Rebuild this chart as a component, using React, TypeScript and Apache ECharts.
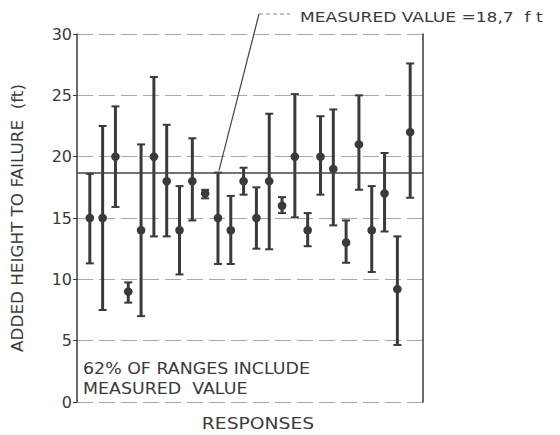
import React, { useEffect, useRef } from "react";
import * as echarts from "echarts";

const responses = [1, 2, 3, 4, 5, 6, 7, 8, 9, 10, 11, 12, 13, 14, 15, 16, 17, 18, 19, 20, 21, 22, 23, 24, 25, 26];
const midValues = [15, 15, 20, 9, 14, 20, 18, 14, 18, 17, 15, 14, 18, 15, 18, 16, 20, 14, 20, 19, 13, 21, 14, 17, 9.2, 22];
const lowValues = [11.3, 7.5, 15.9, 8.1, 7.0, 13.5, 13.5, 10.4, 14.8, 16.6, 11.25, 11.25, 16.9, 12.5, 12.45, 15.4, 15.05, 12.7, 16.9, 14.4, 11.35, 17.3, 10.6, 13.9, 4.65, 16.65];
const highValues = [18.6, 22.5, 24.1, 9.75, 21.0, 26.5, 22.6, 17.6, 21.5, 17.3, 18.7, 16.8, 19.1, 17.5, 23.5, 16.7, 25.1, 15.4, 23.3, 23.85, 14.8, 25.0, 17.6, 20.3, 13.5, 27.6];
const yTicks = [0, 5, 10, 15, 20, 25, 30];
const measuredValue = 18.7;
const annotatedResponse = 11;
const annotationText = "MEASURED VALUE =18,7  f t";
const noteLines = ["62% OF RANGES INCLUDE", "MEASURED  VALUE"];
const yTitle = "ADDED HEIGHT TO FAILURE  (ft)";
const xTitle = "RESPONSES";

const FONT = "DejaVu Sans";
const INK = "#3a3a3a";

export default function App() {
  const ref = useRef<HTMLDivElement>(null);
  useEffect(() => {
    if (!ref.current) return;
    const chart = echarts.init(ref.current, undefined, { renderer: "svg" });
    const data = responses.map((r, i) => [r, lowValues[i], midValues[i], highValues[i]]);
    chart.setOption({
      animation: false,
      backgroundColor: "#ffffff",
      grid: { left: 77, top: 34, right: 137, bottom: 33, show: false },
      xAxis: {
        type: "value",
        min: 0,
        max: responses.length + 1,
        axisLine: { show: false },
        axisTick: { show: false },
        axisLabel: { show: false },
        splitLine: { show: false },
      },
      yAxis: [
        {
          type: "value",
          min: 0,
          max: 30,
          interval: 5,
          axisLine: { show: true, lineStyle: { color: INK, width: 1.5 } },
          axisTick: { show: true, length: 4, lineStyle: { color: INK } },
          axisLabel: {
            fontFamily: FONT,
            fontSize: 16,
            color: INK,
            margin: 5,
            formatter: (v: number) => (yTicks.includes(v) ? String(v) : ""),
          },
          splitLine: { show: true, lineStyle: { color: "#a8a8a8", type: [16, 6], width: 1 } },
        },
        {
          type: "value",
          min: 0,
          max: 30,
          interval: 5,
          position: "right",
          axisLine: { show: true, lineStyle: { color: INK, width: 1.5 } },
          axisTick: { show: false },
          axisLabel: { show: false },
          splitLine: { show: false },
        },
      ],
      series: [
        {
          type: "custom",
          data,
          encode: { x: 0, y: [1, 2, 3] },
          renderItem: (params: any, api: any) => {
            const x = api.value(0);
            const lo = api.coord([x, api.value(1)]);
            const mid = api.coord([x, api.value(2)]);
            const hi = api.coord([x, api.value(3)]);
            const cap = 4;
            const style = { stroke: INK, lineWidth: 3 };
            return {
              type: "group",
              children: [
                { type: "line", shape: { x1: lo[0], y1: lo[1], x2: hi[0], y2: hi[1] }, style },
                { type: "line", shape: { x1: hi[0] - cap, y1: hi[1], x2: hi[0] + cap, y2: hi[1] }, style: { stroke: INK, lineWidth: 2 } },
                { type: "line", shape: { x1: lo[0] - cap, y1: lo[1], x2: lo[0] + cap, y2: lo[1] }, style: { stroke: INK, lineWidth: 2 } },
                { type: "circle", shape: { cx: mid[0], cy: mid[1], r: 4.3 }, style: { fill: INK } },
              ],
            };
          },
          markLine: {
            silent: true,
            symbol: "none",
            label: { show: false },
            lineStyle: { color: "#444", width: 1.5, type: "solid" },
            data: [{ yAxis: measuredValue }],
          },
          z: 3,
        },
      ],
    });

    const p = chart.convertToPixel({ gridIndex: 0 }, [annotatedResponse, measuredValue]) as number[];
    const topY = 14;
    const elbowX = 259;
    chart.setOption({
      graphic: [
        {
          type: "polyline",
          shape: { points: [[p[0] + 1, p[1] - 2], [elbowX, topY]] },
          style: { stroke: "#444", lineWidth: 1.2, fill: "none" },
        },
        {
          type: "line",
          shape: { x1: elbowX, y1: topY, x2: 290, y2: topY },
          style: { stroke: "#888", lineWidth: 1, lineDash: [4, 3] },
        },
        {
          type: "text",
          x: 300,
          y: 18,
          scaleX: 1.22,
          style: { text: annotationText, fontFamily: FONT, fontSize: 14, fill: INK, verticalAlign: "middle", align: "left" },
        },
        {
          type: "text",
          x: 83,
          y: 369,
          scaleX: 1.16,
          style: { text: noteLines[0], fontFamily: FONT, fontSize: 15, fill: INK, verticalAlign: "middle", align: "left" },
        },
        {
          type: "text",
          x: 83,
          y: 389,
          scaleX: 1.16,
          style: { text: noteLines[1], fontFamily: FONT, fontSize: 15, fill: INK, verticalAlign: "middle", align: "left" },
        },
        {
          type: "text",
          x: 18,
          y: 218,
          rotation: Math.PI / 2,
          scaleX: 1.12,
          style: { text: yTitle, fontFamily: FONT, fontSize: 15, fill: INK, verticalAlign: "middle", align: "center" },
        },
        {
          type: "text",
          x: 258,
          y: 424,
          scaleX: 1.25,
          style: { text: xTitle, fontFamily: FONT, fontSize: 15, fill: INK, verticalAlign: "middle", align: "center" },
        },
      ],
    });
    return () => chart.dispose();
  }, []);
  return <div ref={ref} style={{ position: "absolute", left: 0, top: 0, width: 560, height: 435 }} />;
}
